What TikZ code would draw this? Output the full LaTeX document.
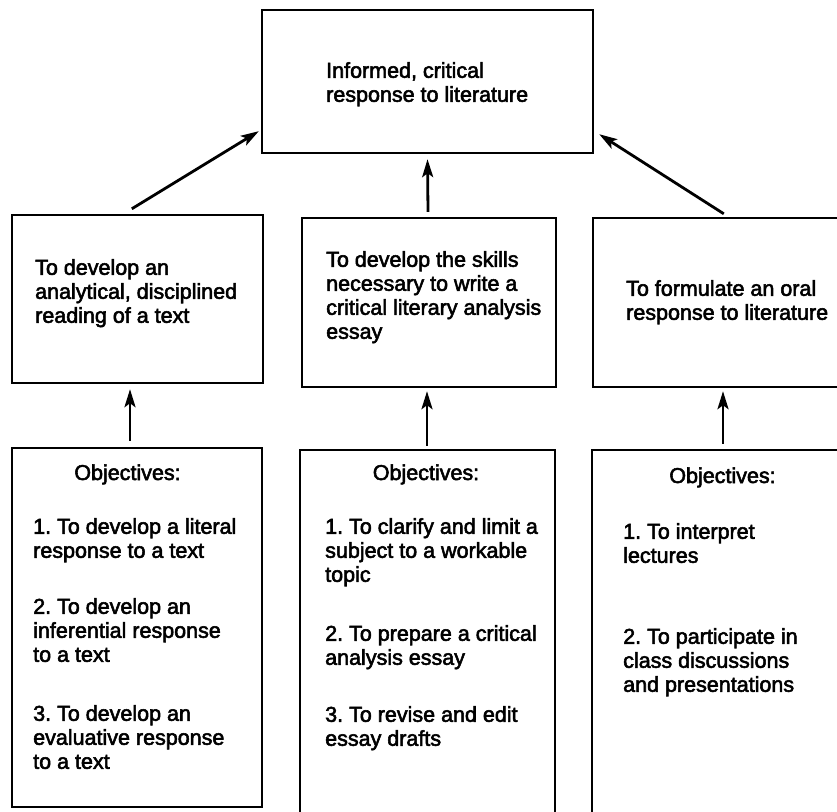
\documentclass[tikz,border=0pt]{standalone}
\usepackage{fontspec}
\setmainfont{Liberation Sans}[FakeBold=2.5]
\frenchspacing
\usetikzlibrary{arrows.meta}
\begin{document}
\begin{tikzpicture}[x=1pt,y=-1pt,
  box/.style={draw=black, line width=2.4pt, inner sep=0pt, rectangle},
  txt/.style={inner sep=0pt, align=left, anchor=north west,
    font=\fontsize{21.5}{24}\selectfont},
  head/.style={inner sep=0pt, anchor=base, font=\fontsize{21.5}{24}\selectfont},
  arr/.style={line width=2.8pt, -{Stealth[length=18pt,width=11pt,inset=4pt]}}]
\useasboundingbox (0,0) rectangle (837,811);
\clip (0,0) rectangle (837,811);
% boxes
\node[box, minimum width=331pt, minimum height=143pt] (top) at (427.5,81.5) {};
\node[box, minimum width=251pt, minimum height=168pt] (lm) at (137.5,299) {};
\node[box, minimum width=254pt, minimum height=169pt] (mm) at (429,302.5) {};
\node[box, minimum width=277pt, minimum height=169pt] (rm) at (731.5,302.5) {};
\node[box, minimum width=250pt, minimum height=359pt] (lb) at (137,627.5) {};
\node[box, minimum width=255pt, minimum height=380pt] (mb) at (427.5,640) {};
\node[box, minimum width=278pt, minimum height=380pt] (rb) at (731,640) {};
% texts
\node[txt] (ttop) at (326,62) {Informed, critical\\response to literature};
\node[txt] (tlm) at (35,259) {To develop an\\analytical, disciplined\\reading of a text};
\node[txt] (tmm) at (326,251) {To develop the skills\\necessary to write a\\critical literary analysis\\essay};
\node[txt] (trm) at (626,280) {To formulate an oral\\response to literature};
\node[head] (hlb) at (127.5,480) {Objectives:};
\node[head] (hmb) at (426,480) {Objectives:};
\node[head] (hrb) at (722.5,483) {Objectives:};
\node[txt] (tlb) at (33,518) {1. To develop a literal\\response to a text\\[32pt]2. To develop an\\inferential response\\to a text\\[35pt]3. To develop an\\evaluative response\\to a text};
\node[txt] (tmb) at (325,518) {1. To clarify and limit a\\subject to a workable\\topic\\[35pt]2. To prepare a critical\\analysis essay\\[33pt]3. To revise and edit\\essay drafts};
\node[txt] (trb) at (623,523) {1. To interpret\\lectures\\[57pt]2. To participate in\\class discussions\\and presentations};
% arrows
\draw[arr] ([shift={(121pt,5pt)}]lm.north west) -- ([shift={(-2pt,23pt)}]top.south west);
\draw[arr] ([shift={(-1pt,5pt)}]mm.north) -- ([yshift=-5pt]top.south);
\draw[arr] ([shift={(132pt,3pt)}]rm.north west) -- ([shift={(5pt,20pt)}]top.south east);
\draw[arr] ([shift={(-7pt,6pt)}]lb.north) -- ([shift={(-7.5pt,-5pt)}]lm.south);
\draw[arr] ([shift={(-0.5pt,3pt)}]mb.north) -- ([shift={(-2pt,-3pt)}]mm.south);
\draw[arr] ([shift={(-8pt,5pt)}]rb.north) -- ([shift={(-8.5pt,-3pt)}]rm.south);
\end{tikzpicture}
\end{document}
